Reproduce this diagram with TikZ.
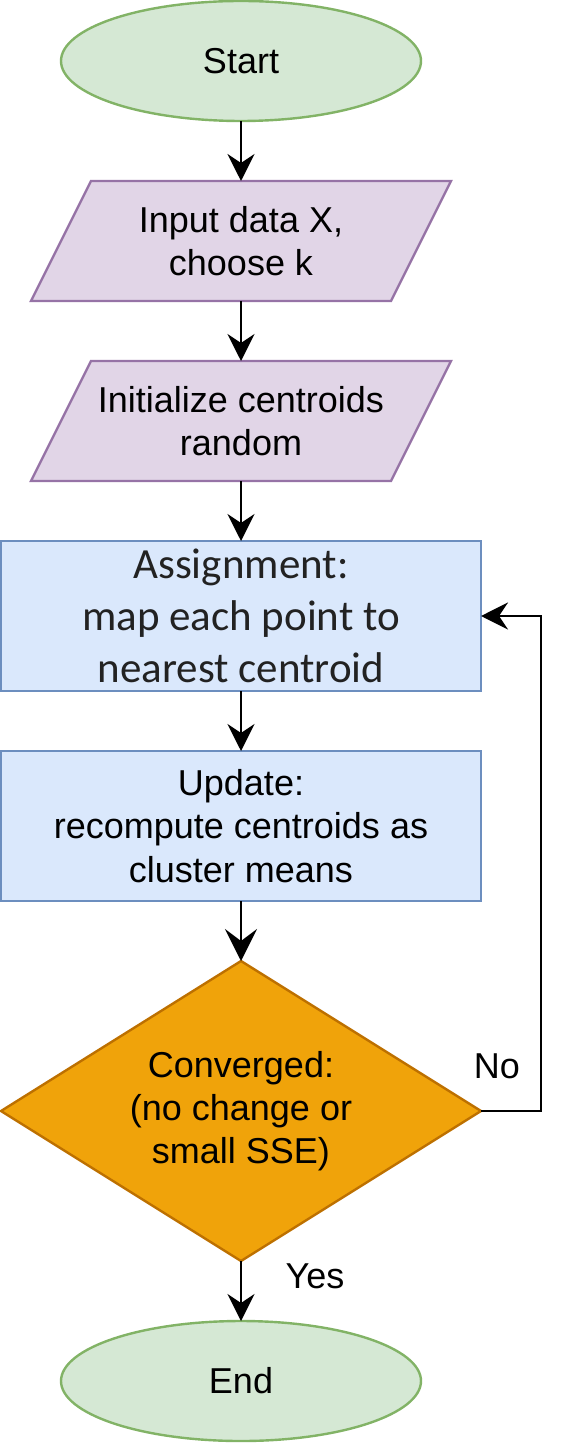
\documentclass[tikz,border=0pt]{standalone}
\usepackage{fontspec}
\setmainfont{Liberation Sans}
\newfontfamily\calfont{Carlito}
\usetikzlibrary{arrows.meta,shapes.geometric,backgrounds}
\definecolor{gfill}{HTML}{D5E8D4}
\definecolor{gline}{HTML}{82B366}
\definecolor{pfill}{HTML}{E1D5E7}
\definecolor{pline}{HTML}{9673A6}
\definecolor{bfill}{HTML}{DAE8FC}
\definecolor{bline}{HTML}{6C8EBF}
\definecolor{ofill}{HTML}{F0A30A}
\definecolor{oline}{HTML}{BD7000}
\definecolor{asgtext}{HTML}{222222}
\begin{document}
\begin{tikzpicture}[x=0.5pt,y=-0.5pt,
  base/.style={inner sep=0pt, outer sep=0pt, line width=1.2pt,
    font=\fontsize{18}{21.6}\selectfont, align=center},
  term/.style={base, ellipse, draw=gline, fill=gfill,
    minimum width=180pt, minimum height=60pt},
  iobox/.style={base, rectangle, minimum width=210pt, minimum height=60pt},
  iofill/.style={draw=pline, fill=pfill, line width=1.2pt},
  proc/.style={base, rectangle, draw=bline, fill=bfill,
    minimum width=240pt, minimum height=75pt},
  decbox/.style={base, rectangle, minimum width=240pt, minimum height=150pt},
  decfill/.style={draw=oline, fill=ofill, line width=1.2pt},
  lbl/.style={inner sep=0pt, font=\fontsize{18}{21.6}\selectfont},
  conn/.style={draw=black, line width=1.4pt,
    -{Stealth[length=13.5pt, width=13.5pt, inset=4.5pt]}},
  bigconn/.style={draw=black, line width=1.4pt,
    -{Stealth[length=16pt, width=16pt, inset=6pt]}}
]
\useasboundingbox (0,0) rectangle (567,1443);

\node[term] (start) at (241,61) {Start};
\node[iobox] (in1) at (241,241) {Input data X,\\choose k};
\node[iobox] (in2) at (241,421) {Initialize centroids\\random};
\node[proc, text=asgtext, font=\calfont\fontsize{21.5}{26}\selectfont] (assign) at (241,616)
  {Assignment:\\map each point to\\nearest centroid};
\node[proc] (update) at (241,826) {Update:\\recompute centroids as\\cluster means};
\node[decbox] (dec) at (241,1111) {Converged:\\(no change or\\small SSE)};
\node[term] (end) at (241,1381) {End};

\begin{scope}[on background layer]
  \filldraw[iofill] (in1.north east) -- ([xshift=-30pt]in1.south east)
    -- (in1.south west) -- ([xshift=30pt]in1.north west) -- cycle;
  \filldraw[iofill] (in2.north east) -- ([xshift=-30pt]in2.south east)
    -- (in2.south west) -- ([xshift=30pt]in2.north west) -- cycle;
  \filldraw[decfill] (dec.north) -- (dec.east) -- (dec.south) -- (dec.west) -- cycle;
\end{scope}

\draw[conn] (start.south) -- (in1.north);
\draw[conn] (in1.south) -- (in2.north);
\draw[conn] (in2.south) -- (assign.north);
\draw[conn] (assign.south) -- (update.north);
\draw[bigconn] (update.south) -- (dec.north);
\draw[conn] (dec.south) -- (end.north);
\draw[conn] (dec.east) -- ++(30pt,0) |- (assign.east);

\node[lbl] (no) at (497,1066) {No};
\node[lbl] (yes) at (315,1276) {Yes};
\end{tikzpicture}
\end{document}
